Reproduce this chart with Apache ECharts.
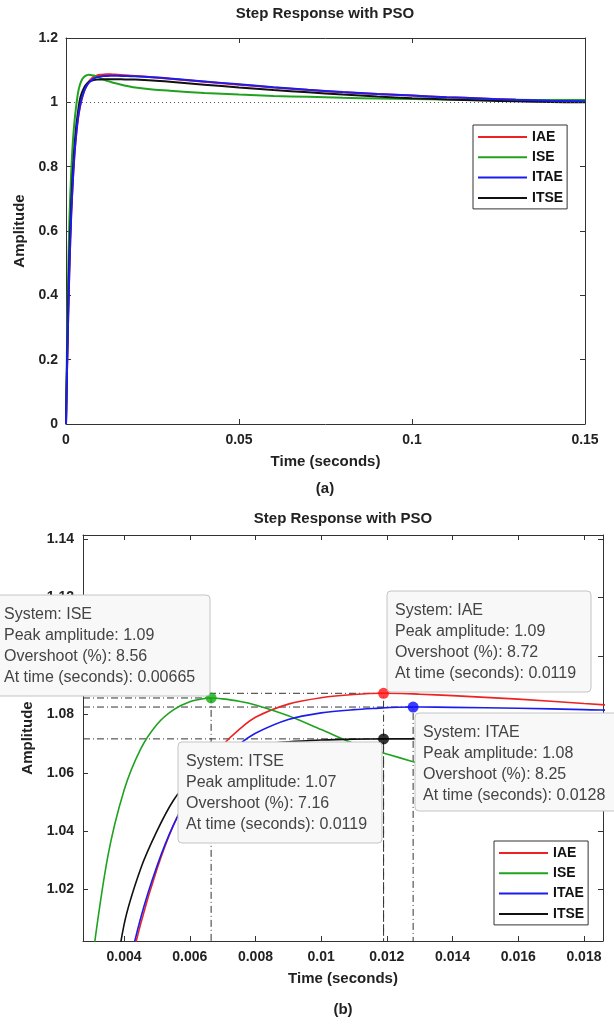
<!DOCTYPE html>
<html>
<head>
<meta charset="utf-8">
<script src="https://cdn.jsdelivr.net/npm/echarts@6/dist/echarts.min.js"></script>
<style>
html, body { margin: 0; padding: 0; background: #fff; }
#chart { width: 614px; height: 1024px; }
</style>
</head>
<body>
<div id="chart"></div>
<script>
// 时间采样点 (s)
var timeData = [0, 0.0003, 0.0006, 0.001, 0.0015, 0.002, 0.0025, 0.003, 0.0035, 0.004,
	0.0045, 0.005, 0.0055, 0.006, 0.0065, 0.00665, 0.007, 0.0075, 0.008, 0.009,
	0.010, 0.011, 0.0119, 0.012, 0.0128, 0.013, 0.014, 0.016, 0.018, 0.020,
	0.025, 0.03, 0.04, 0.05, 0.06, 0.07, 0.08, 0.09, 0.1, 0.11,
	0.12, 0.13, 0.14, 0.15];
// 各指标阶跃响应
var iaeData = [0, 0.17, 0.32, 0.49, 0.65, 0.76, 0.845, 0.905, 0.952, 0.984,
	1.008, 1.027, 1.042, 1.053, 1.062, 1.0645, 1.0695, 1.0748, 1.0790, 1.0835,
	1.0857, 1.0868, 1.0872, 1.0872, 1.0870, 1.0869, 1.0864, 1.0852, 1.0837, 1.0822,
	1.078, 1.073, 1.064, 1.055, 1.046, 1.038, 1.031, 1.026, 1.021, 1.016,
	1.012, 1.008, 1.005, 1.003];
var iseData = [0, 0.25, 0.45, 0.64, 0.78, 0.88, 0.945, 0.993, 1.031, 1.054,
	1.068, 1.0765, 1.0815, 1.0843, 1.0855, 1.0856, 1.0853, 1.0845, 1.0832, 1.0795,
	1.0748, 1.0700, 1.0668, 1.0664, 1.0638, 1.0631, 1.0600, 1.0545, 1.050, 1.046,
	1.040, 1.036, 1.029, 1.024, 1.020, 1.017, 1.014, 1.012, 1.010, 1.009,
	1.008, 1.008, 1.007, 1.007];
var itaeData = [0, 0.17, 0.32, 0.49, 0.65, 0.76, 0.847, 0.907, 0.954, 0.986,
	1.010, 1.028, 1.042, 1.052, 1.0595, 1.0612, 1.0650, 1.0697, 1.0735, 1.0782,
	1.0805, 1.0816, 1.0822, 1.0823, 1.0825, 1.0825, 1.0824, 1.0821, 1.0816, 1.0810,
	1.078, 1.074, 1.065, 1.056, 1.047, 1.039, 1.032, 1.026, 1.021, 1.016,
	1.012, 1.008, 1.005, 1.003];
var itseData = [0, 0.19, 0.35, 0.53, 0.68, 0.79, 0.87, 0.93, 0.972, 1.008,
	1.027, 1.040, 1.0505, 1.0575, 1.0625, 1.0637, 1.0660, 1.0680, 1.0694, 1.0706,
	1.0712, 1.0715, 1.0716, 1.0716, 1.0716, 1.0716, 1.0715, 1.0714, 1.0712, 1.0708,
	1.068, 1.064, 1.055, 1.046, 1.038, 1.031, 1.024, 1.018, 1.013, 1.009,
	1.006, 1.003, 1.001, 1.000];

// 峰值信息
var sysNames = ['IAE', 'ISE', 'ITAE', 'ITSE'];
var sysColors = ['#ee2222', '#1fa31f', '#1c1cee', '#111111'];
var dotColors = ['#ff1111', '#11aa11', '#0a0aff', '#000000'];
var peakTimes = [0.0119, 0.00665, 0.0128, 0.0119];
var peakValues = [1.0872, 1.0856, 1.0825, 1.0716];
var peakLabels = ['1.09', '1.09', '1.08', '1.07'];
var overshoots = ['8.72', '8.56', '8.25', '7.16'];
var timeLabels = ['0.0119', '0.00665', '0.0128', '0.0119'];

// 坐标轴
var topXRange = [0, 0.15];
var topYRange = [0, 1.2];
var zoomXRange = [0.00275, 0.01858];
var zoomYRange = [1.0024, 1.1414];
var zoomXTicks = [0.004, 0.006, 0.008, 0.01, 0.012, 0.014, 0.016, 0.018];
var zoomYTicks = [1.02, 1.04, 1.06, 1.08, 1.1, 1.12, 1.14];

var FONT = '"Liberation Sans", Arial, Helvetica, sans-serif';
var seriesValues = [iaeData, iseData, itaeData, itseData];

function pairs(vals) {
	return timeData.map(function(t, i) { return [t, vals[i]]; });
}

function mainAxisX(grid, min, max, opt) {
	var a = {
		type: 'value', gridIndex: grid, min: min, max: max,
		axisLine: { onZero: false, lineStyle: { color: '#333', width: 1 } },
		axisTick: { inside: true, length: 5, lineStyle: { color: '#333' } },
		axisLabel: { color: '#222', fontFamily: FONT, fontWeight: 'bold', fontSize: 14, margin: 9 },
		splitLine: { show: false },
		name: 'Time (seconds)', nameLocation: 'middle', nameGap: 30,
		nameTextStyle: { color: '#222', fontFamily: FONT, fontWeight: 'bold', fontSize: 15 }
	};
	return Object.assign(a, opt || {});
}
function mainAxisY(grid, min, max, opt) {
	var a = {
		type: 'value', gridIndex: grid, min: min, max: max,
		axisLine: { onZero: false, lineStyle: { color: '#333', width: 1 } },
		axisTick: { inside: true, length: 5, lineStyle: { color: '#333' } },
		axisLabel: { color: '#222', fontFamily: FONT, fontWeight: 'bold', fontSize: 14, margin: 8 },
		splitLine: { show: false },
		name: 'Amplitude', nameLocation: 'middle', nameGap: 35,
		nameTextStyle: { color: '#222', fontFamily: FONT, fontWeight: 'bold', fontSize: 15 }
	};
	return Object.assign(a, opt || {});
}
function mirrorAxis(grid, pos, min, max, opt) {
	var a = {
		type: 'value', gridIndex: grid, position: pos, min: min, max: max,
		axisLine: { onZero: false, lineStyle: { color: '#333', width: 1 } },
		axisTick: { inside: true, length: 5, lineStyle: { color: '#333' } },
		axisLabel: { show: false },
		splitLine: { show: false }
	};
	return Object.assign(a, opt || {});
}

var series = [];
// 上图曲线
sysNames.forEach(function(n, i) {
	var s = {
		name: n, type: 'line', xAxisIndex: 0, yAxisIndex: 0,
		data: pairs(seriesValues[i]), symbol: 'none', smooth: 0.3,
		lineStyle: { color: sysColors[i], width: 2 }, itemStyle: { color: sysColors[i] },
		z: 3 + (i == 2 ? 1 : 0)
	};
	if (i == 0) {
		s.markLine = {
			silent: true, symbol: 'none', label: { show: false },
			lineStyle: { color: '#555', type: [1, 3], width: 1 },
			data: [{ yAxis: 1 }]
		};
	}
	series.push(s);
});
// 下图辅助虚线
sysNames.forEach(function(n, i) {
	series.push({
		name: n + '-guide', type: 'line', xAxisIndex: 2, yAxisIndex: 2, silent: true,
		data: [[zoomXRange[0], peakValues[i]], [peakTimes[i], peakValues[i]], [peakTimes[i], zoomYRange[0]]],
		symbol: 'none', lineStyle: { color: '#333', width: 1, type: [7, 3, 1, 3] }, z: 2
	});
});
// 下图曲线
sysNames.forEach(function(n, i) {
	series.push({
		name: n, type: 'line', xAxisIndex: 2, yAxisIndex: 2,
		data: pairs(seriesValues[i]), symbol: 'none', smooth: 0.3,
		lineStyle: { color: sysColors[i], width: 1.6 }, itemStyle: { color: sysColors[i] },
		z: 3
	});
});
// 峰值点
sysNames.forEach(function(n, i) {
	series.push({
		name: n + '-peak', type: 'scatter', xAxisIndex: 2, yAxisIndex: 2, silent: true,
		data: [[peakTimes[i], peakValues[i]]], symbolSize: 11,
		itemStyle: { color: dotColors[i] }, z: 5
	});
});

// 数据提示框
var tipBoxes = [
	{ idx: 1, x: -4, y: 595, w: 214, h: 101 },
	{ idx: 0, x: 387, y: 591, w: 204, h: 101 },
	{ idx: 3, x: 178, y: 742, w: 204, h: 101 },
	{ idx: 2, x: 415, y: 713, w: 220, h: 98 }
];
var graphics = [];
tipBoxes.forEach(function(b) {
	var i = b.idx;
	graphics.push({
		type: 'rect', shape: { x: b.x, y: b.y, width: b.w, height: b.h, r: 4 },
		style: { fill: '#f8f8f8', stroke: '#c4c4c4', lineWidth: 1 }, z: 100
	});
	graphics.push({
		type: 'text', x: b.x + 8, y: b.y + 9, z: 101,
		style: {
			text: 'System: ' + sysNames[i] + '\nPeak amplitude: ' + peakLabels[i] +
				'\nOvershoot (%): ' + overshoots[i] + '\nAt time (seconds): ' + timeLabels[i],
			font: '16px ' + FONT, fill: '#444', lineHeight: 21
		}
	});
});
// 标题与子图编号
[['Step Response with PSO', 325, 6], ['(a)', 325, 481], ['Step Response with PSO', 343, 511], ['(b)', 343, 1002]].forEach(function(t) {
	graphics.push({
		type: 'text', x: t[1], y: t[2], z: 50,
		style: { text: t[0], font: 'bold 15px ' + FONT, fill: '#222', textAlign: 'center' }
	});
});

function legendOpt(left, top) {
	return {
		data: sysNames, orient: 'vertical', left: left, top: top,
		icon: 'rect', itemWidth: 49, itemHeight: 2, itemGap: 4.3,
		padding: [4, 4, 3, 5], borderColor: '#333', borderWidth: 1, backgroundColor: '#fff',
		textStyle: { color: '#111', fontFamily: FONT, fontWeight: 'bold', fontSize: 14, lineHeight: 16 },
		selectedMode: false, z: 120
	};
}

var chart = echarts.init(document.getElementById('chart'));
chart.setOption({
	animation: false,
	backgroundColor: '#fff',
	grid: [
		{ left: 66, top: 38, width: 519, height: 386 },
		{ left: 83, top: 535, width: 520, height: 406 }
	],
	xAxis: [
		mainAxisX(0, topXRange[0], topXRange[1], { interval: 0.05 }),
		mirrorAxis(0, 'top', topXRange[0], topXRange[1], { interval: 0.05 }),
		mainAxisX(1, zoomXRange[0], zoomXRange[1], {
			axisTick: { inside: true, length: 5, lineStyle: { color: '#333' }, customValues: zoomXTicks },
			axisLabel: { color: '#222', fontFamily: FONT, fontWeight: 'bold', fontSize: 14, margin: 9, customValues: zoomXTicks }
		}),
		mirrorAxis(1, 'top', zoomXRange[0], zoomXRange[1], {
			axisTick: { inside: true, length: 5, lineStyle: { color: '#333' }, customValues: zoomXTicks }
		})
	],
	yAxis: [
		mainAxisY(0, topYRange[0], topYRange[1], { interval: 0.2 }),
		mirrorAxis(0, 'right', topYRange[0], topYRange[1], { interval: 0.2 }),
		mainAxisY(1, zoomYRange[0], zoomYRange[1], {
			nameGap: 40,
			axisTick: { inside: true, length: 5, lineStyle: { color: '#333' }, customValues: zoomYTicks },
			axisLabel: { color: '#222', fontFamily: FONT, fontWeight: 'bold', fontSize: 14, margin: 9, customValues: zoomYTicks }
		}),
		mirrorAxis(1, 'right', zoomYRange[0], zoomYRange[1], {
			axisTick: { inside: true, length: 5, lineStyle: { color: '#333' }, customValues: zoomYTicks }
		})
	],
	legend: [legendOpt(473, 125), legendOpt(494, 841)],
	series: series,
	graphic: graphics
});
</script>
</body>
</html>
